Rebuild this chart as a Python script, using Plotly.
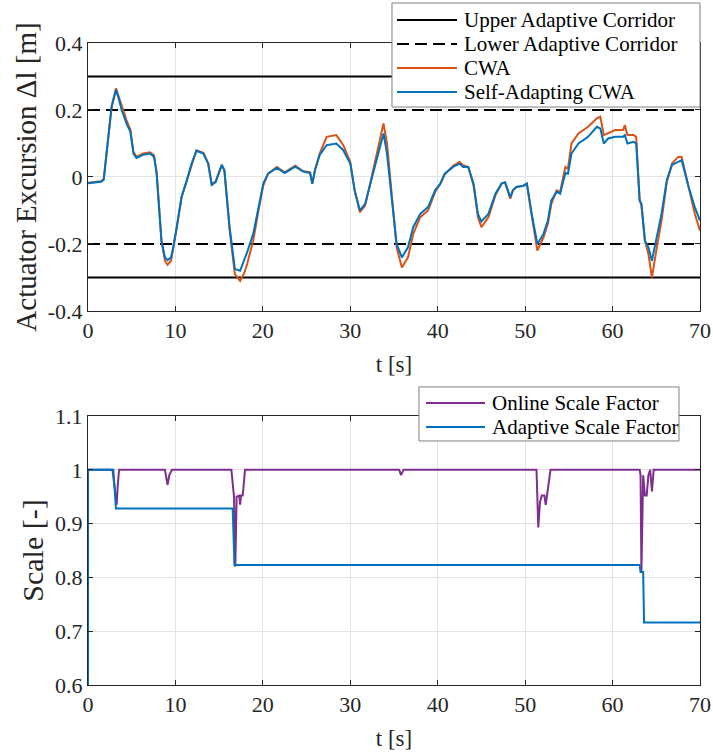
import plotly.graph_objects as go
from plotly.subplots import make_subplots

# ---------------- data: top panel ----------------
t_top = [0.0, 1.5, 1.8, 2.3, 2.7, 3.2, 3.45, 3.85, 4.4, 4.85, 5.2, 5.55, 6.3, 7.1, 7.55, 7.85,
         8.4, 8.8, 9.1, 9.5, 9.75, 10.15, 10.7, 11.3, 11.85, 12.4, 13.2, 13.75, 14.15, 14.6,
         15.3, 15.6, 16.2, 16.8, 17.4, 17.9, 18.2, 18.9, 19.5, 20.05, 20.6, 21.6, 22.5, 23.7,
         24.6, 25.4, 25.66, 25.96, 26.5, 27.3, 28.4, 29.2, 30.0, 30.5, 31.1, 31.7, 32.4, 33.2,
         33.8, 34.2, 34.7, 35.3, 35.9, 36.6, 37.2, 38.0, 38.9, 39.7, 40.3, 40.8, 41.8, 42.5,
         42.9, 43.5, 44.1, 44.6, 45.0, 45.8, 46.6, 47.3, 47.7, 48.1, 48.3, 48.6, 49.0, 49.8,
         50.2, 50.75, 51.4, 52.1, 52.6, 53.0, 53.6, 54.0, 54.6, 54.9, 55.3, 56.1, 57.2, 58.2,
         58.6, 59.0, 59.5, 60.3, 61.2, 61.4, 61.7, 62.4, 62.7, 63.1, 63.3, 63.7, 64.1, 64.5,
         65.0, 65.6, 66.2, 66.8, 67.5, 67.9, 68.7, 69.4, 70.0]

self_adapting_cwa = [-0.019, -0.014, -0.008, 0.11, 0.21, 0.26, 0.24, 0.20, 0.16, 0.135, 0.07,
                     0.057, 0.066, 0.07, 0.06, 0.01, -0.19, -0.24, -0.248, -0.24, -0.21, -0.15,
                     -0.06, -0.01, 0.04, 0.078, 0.07, 0.04, -0.024, -0.015, 0.036, 0.02, -0.15,
                     -0.275, -0.28, -0.245, -0.225, -0.17, -0.09, -0.02, 0.01, 0.027, 0.012,
                     0.031, 0.016, 0.012, -0.02, 0.02, 0.066, 0.095, 0.10, 0.08, 0.04, -0.04,
                     -0.10, -0.08, -0.01, 0.07, 0.13, 0.07, -0.06, -0.20, -0.24, -0.21, -0.15,
                     -0.11, -0.09, -0.04, -0.02, 0.01, 0.031, 0.04, 0.03, 0.03, -0.02, -0.11,
                     -0.133, -0.11, -0.05, -0.02, -0.016, -0.05, -0.06, -0.04, -0.03, -0.026,
                     -0.02, -0.11, -0.20, -0.17, -0.13, -0.07, -0.044, -0.05, 0.012, 0.01, 0.07,
                     0.10, 0.12, 0.15, 0.145, 0.10, 0.115, 0.12, 0.12, 0.125, 0.10, 0.105, 0.10,
                     -0.07, -0.08, -0.19, -0.21, -0.25, -0.19, -0.11, -0.01, 0.036, 0.045, 0.05,
                     -0.03, -0.09, -0.13]

cwa = [-0.017, -0.013, -0.006, 0.11, 0.21, 0.265, 0.245, 0.21, 0.17, 0.14, 0.075, 0.06, 0.07,
       0.074, 0.065, 0.015, -0.19, -0.25, -0.262, -0.25, -0.215, -0.15, -0.06, -0.01, 0.04,
       0.08, 0.072, 0.04, -0.022, -0.013, 0.036, 0.02, -0.16, -0.29, -0.31, -0.285, -0.26,
       -0.19, -0.10, -0.025, 0.01, 0.03, 0.014, 0.034, 0.018, 0.014, -0.02, 0.022, 0.07, 0.12,
       0.125, 0.095, 0.045, -0.04, -0.105, -0.085, -0.005, 0.09, 0.16, 0.10, -0.05, -0.21,
       -0.27, -0.24, -0.17, -0.12, -0.10, -0.045, -0.02, 0.008, 0.034, 0.045, 0.035, 0.03,
       -0.025, -0.12, -0.15, -0.12, -0.055, -0.02, -0.016, -0.05, -0.065, -0.04, -0.03,
       -0.026, -0.02, -0.115, -0.22, -0.18, -0.14, -0.08, -0.04, -0.045, 0.03, 0.025, 0.10,
       0.13, 0.15, 0.175, 0.18, 0.125, 0.13, 0.14, 0.14, 0.155, 0.125, 0.125, 0.12, -0.07,
       -0.085, -0.19, -0.23, -0.30, -0.22, -0.13, -0.015, 0.04, 0.06, 0.06, -0.03, -0.11,
       -0.16]

corridor_t = [0, 70]
upper_corridor = [0.3, -0.3]
lower_corridor = [0.2, -0.2]

# ---------------- data: bottom panel ----------------
t_online = [0, 2.8, 3.1, 3.28, 3.4, 3.55, 8.8, 9.0, 9.1, 9.3, 9.6, 16.4, 16.7, 16.85, 17.0,
            17.3, 17.4, 17.5, 17.7, 17.96, 35.6, 35.8, 36.1, 51.3, 51.5, 51.7, 51.9, 52.2,
            52.35, 52.5, 52.9, 63.1, 63.2, 63.3, 63.5, 63.7, 63.9, 64.1, 64.3, 64.5, 64.7, 70]
online_scale = [1.0, 1.0, 0.96, 0.935, 0.97, 1.0, 1.0, 0.985, 0.972, 0.99, 1.0, 1.0, 0.95,
                0.82, 0.95, 0.952, 0.935, 0.952, 0.952, 1.0, 1.0, 0.99, 1.0, 1.0, 0.893, 0.94,
                0.952, 0.952, 0.935, 0.952, 1.0, 1.0, 0.99, 0.81, 0.99, 0.952, 0.952, 0.99,
                1.0, 0.96, 1.0, 1.0]

t_adaptive = [0, 0, 2.9, 3.2, 16.55, 16.75, 63.1, 63.2, 63.5, 63.6, 70]
adaptive_scale = [0.0, 1.0, 1.0, 0.928, 0.928, 0.823, 0.823, 0.81, 0.81, 0.716, 0.716]

x_ticks = [0, 10, 20, 30, 40, 50, 60, 70]
y_ticks_top = [-0.4, -0.2, 0, 0.2, 0.4]
y_ticks_top_text = ["-0.4", "-0.2", "0", "0.2", "0.4"]
y_ticks_bottom = [0.6, 0.7, 0.8, 0.9, 1.0, 1.1]
y_ticks_bottom_text = ["0.6", "0.7", "0.8", "0.9", "1", "1.1"]

# ---------------- styling ----------------
FONT = "Liberation Serif, Times New Roman, serif"
AX = "#262626"
GRID = "#e3e3e3"
BLUE = "#0072BD"
ORANGE = "#D95319"
PURPLE = "#7E2F8E"
LW = 2

style_upper = dict(color="black", width=LW)
style_lower = dict(color="black", width=LW, dash="12px,6px")
style_cwa = dict(color=ORANGE, width=LW)
style_sa = dict(color=BLUE, width=LW)
style_online = dict(color=PURPLE, width=LW)
style_adaptive = dict(color=BLUE, width=LW)

fig = make_subplots(rows=2, cols=1, vertical_spacing=0.16)


def seg(xs, ys):
    x, y = [], []
    for v in ys:
        x += [xs[0], xs[1], None]
        y += [v, v, None]
    return x, y


ux, uy = seg(corridor_t, upper_corridor)
lx, ly = seg(corridor_t, lower_corridor)

top_entries = [("Upper Adaptive Corridor", ux, uy, style_upper),
               ("Lower Adaptive Corridor", lx, ly, style_lower),
               ("CWA", t_top, cwa, style_cwa),
               ("Self-Adapting CWA", t_top, self_adapting_cwa, style_sa)]
bottom_entries = [("Online Scale Factor", t_online, online_scale, style_online),
                  ("Adaptive Scale Factor", t_adaptive, adaptive_scale, style_adaptive)]

for name, x, y, st in top_entries:
    fig.add_trace(go.Scatter(x=x, y=y, mode="lines", name=name, line=st, showlegend=False),
                  row=1, col=1)
for name, x, y, st in bottom_entries:
    fig.add_trace(go.Scatter(x=x, y=y, mode="lines", name=name, line=st, showlegend=False),
                  row=2, col=1)

axis_common = dict(showline=True, linecolor=AX, linewidth=1, mirror="ticks", ticks="inside",
                   ticklen=5, tickcolor=AX, showgrid=True, gridcolor=GRID, gridwidth=1,
                   zeroline=False, tickfont=dict(family=FONT, size=22, color=AX))

for r in (1, 2):
    fig.update_xaxes(range=[0, 70], tickvals=x_ticks, row=r, col=1,
                     title=dict(text="t [s]", font=dict(family=FONT, size=23, color=AX),
                                standoff=13),
                     **axis_common)

fig.update_yaxes(range=[-0.4, 0.4], tickvals=y_ticks_top, ticktext=y_ticks_top_text,
                 row=1, col=1,
                 title=dict(text="Actuator Excursion Δl [m]",
                            font=dict(family=FONT, size=29, color=AX), standoff=2),
                 **axis_common)
fig.update_yaxes(range=[0.6, 1.1], tickvals=y_ticks_bottom, ticktext=y_ticks_bottom_text,
                 row=2, col=1,
                 title=dict(text="Scale [-]", font=dict(family=FONT, size=30, color=AX),
                            standoff=2),
                 **axis_common)

fig.update_layout(
    xaxis=dict(domain=[0, 1]),
    yaxis=dict(domain=[0.5826, 1.0]),
    xaxis2=dict(domain=[0, 1]),
    yaxis2=dict(domain=[0.0, 0.419]),
)

# ---------------- hand-drawn legends (MATLAB style: long samples, tight rows) ----------------
shapes = []
annotations = []


def add_legend(entries, box, line_x0, line_x1, text_x, rows_y):
    x0, x1, y0, y1 = box
    shapes.append(dict(type="rect", xref="paper", yref="paper", x0=x0, x1=x1, y0=y0, y1=y1,
                       fillcolor="white", line=dict(color="#7f7f7f", width=1), layer="above"))
    for (name, _, _, st), yy in zip(entries, rows_y):
        shapes.append(dict(type="line", xref="paper", yref="paper", x0=line_x0, x1=line_x1,
                           y0=yy, y1=yy, line=st, layer="above"))
        annotations.append(dict(text=name, xref="paper", yref="paper", x=text_x, y=yy,
                                xanchor="left", yanchor="middle", showarrow=False,
                                font=dict(family=FONT, size=21, color="black")))


add_legend(top_entries, (0.4967, 1.0, 0.9003, 1.0623), 0.5049, 0.6029, 0.6111,
           [1.0358, 0.9984, 0.9611, 0.9237])
add_legend(bottom_entries, (0.5408, 0.9657, 0.3801, 0.4642), 0.5523, 0.6487, 0.6569,
           [0.4393, 0.4019])

fig.update_layout(
    width=713, height=753,
    margin=dict(l=88, r=13, t=43, b=68, autoexpand=False),
    paper_bgcolor="white", plot_bgcolor="white",
    showlegend=False,
    shapes=shapes, annotations=annotations,
)

fig.write_html("out.html", config={"displayModeBar": False},
               post_script="document.body.style.margin='0';")
